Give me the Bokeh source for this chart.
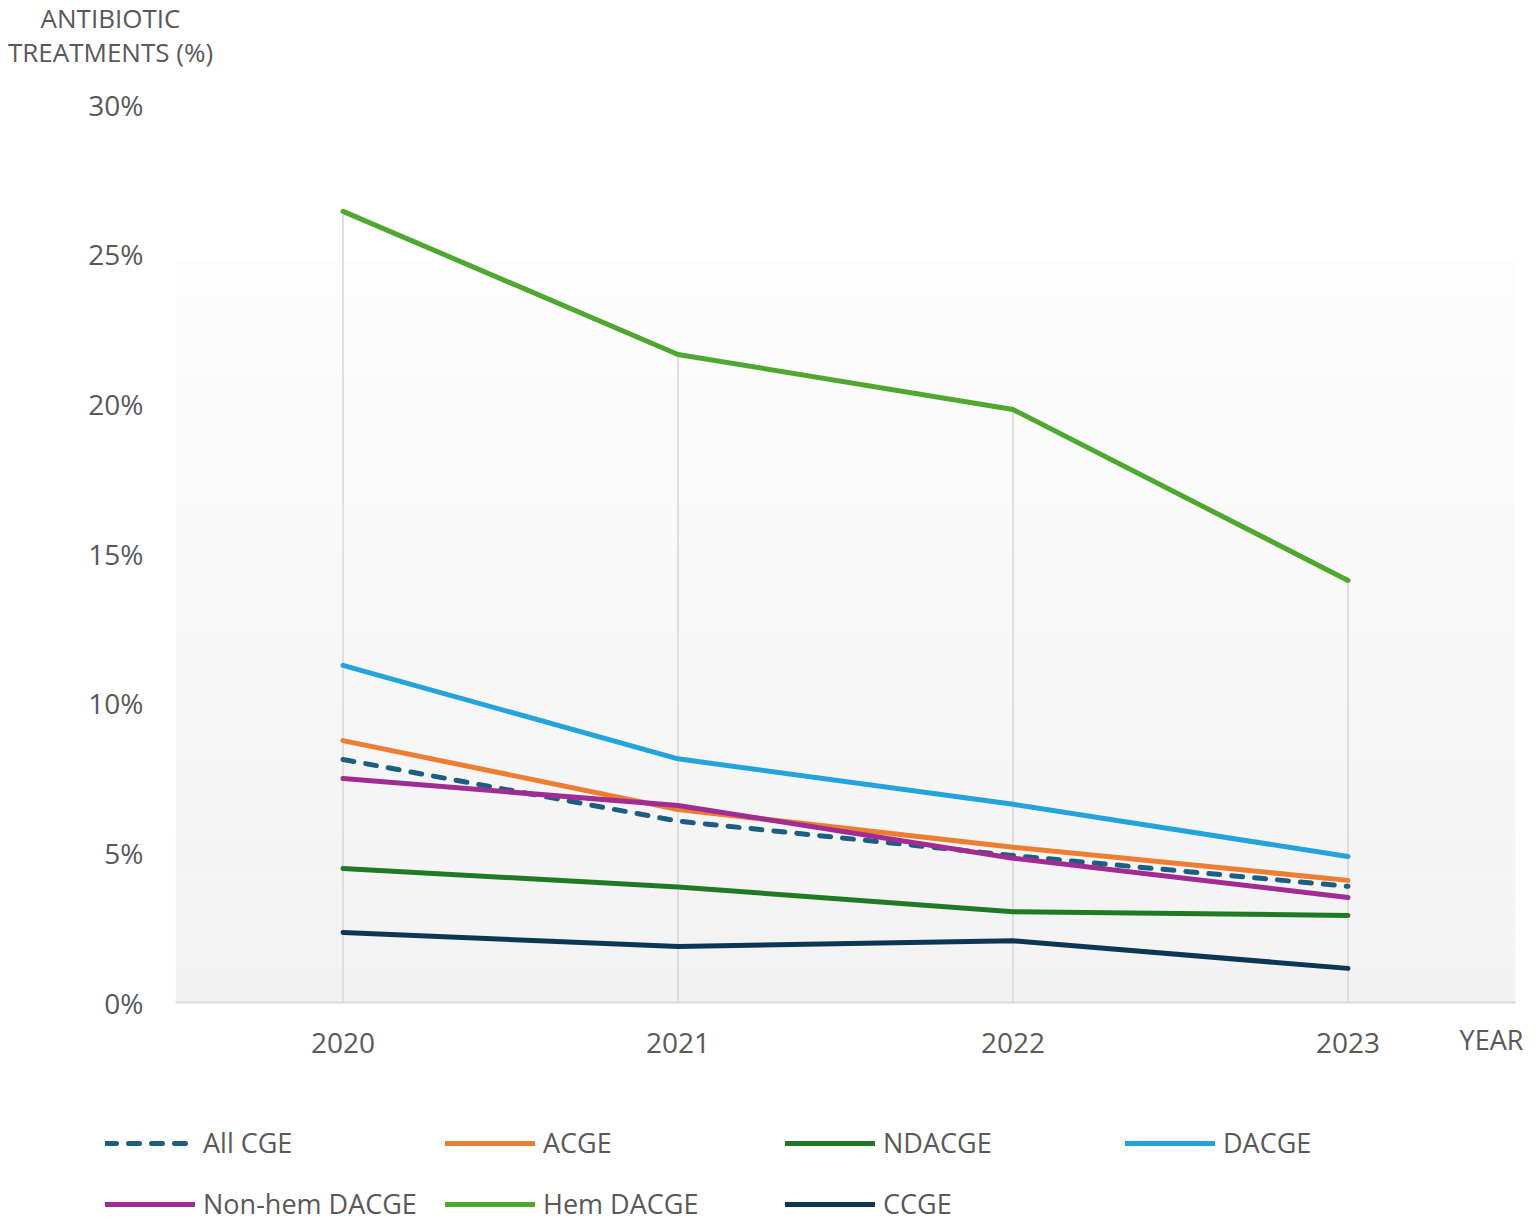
from bokeh.plotting import figure
from bokeh.models import (FactorRange, Range1d, FixedTicker, PrintfTickFormatter,
                          Legend, LegendItem, Label, BoxAnnotation)
from bokeh.embed import file_html
from bokeh.resources import INLINE

# ---- data ----
years = ["2020", "2021", "2022", "2023"]
all_cge = [8.12, 6.06, 4.91, 3.88]
acge = [8.75, 6.45, 5.19, 4.08]
ndacge = [4.48, 3.86, 3.03, 2.91]
dacge = [11.26, 8.14, 6.62, 4.88]
nonhem_dacge = [7.48, 6.58, 4.82, 3.51]
hem_dacge = [26.43, 21.65, 19.81, 14.10]
ccge = [2.34, 1.87, 2.06, 1.14]
y_ticks = [0, 5, 10, 15, 20, 25, 30]

series = [
    ("All CGE", all_cge, "#1b5e82", "11 12"),
    ("ACGE", acge, "#ed7d31", "solid"),
    ("NDACGE", ndacge, "#1f7a24", "solid"),
    ("DACGE", dacge, "#22a3dc", "solid"),
    ("Non-hem DACGE", nonhem_dacge, "#a02b93", "solid"),
    ("Hem DACGE", hem_dacge, "#4ea72e", "solid"),
    ("CCGE", ccge, "#0d3652", "solid"),
]

FONT = "Open Sans"
TXT = "#595959"

p = figure(x_range=FactorRange(*years), y_range=Range1d(0, 30),
           frame_width=1340, frame_height=898,
           min_border_left=175, min_border_right=13,
           min_border_top=104, min_border_bottom=108,
           output_backend="svg", toolbar_location=None)
p.outline_line_color = None
p.xgrid.grid_line_color = None
p.ygrid.grid_line_color = None
p.background_fill_color = "white"
p.border_fill_color = "white"

# plot-area gradient background (decorative)
n_bands = 40
top_val = 24.8
for i in range(n_bands):
    b = top_val * i / n_bands
    t = top_val * (i + 1) / n_bands
    f = i / (n_bands - 1)
    g = int(round(0xf2 + (0xfd - 0xf2) * f))
    p.add_layout(BoxAnnotation(bottom=b, top=t, fill_color="#%02x%02x%02x" % (g, g, g),
                               fill_alpha=1.0, line_color=None, level="underlay"))

# drop lines
maxima = [max(vals) for vals in zip(*[s[1] for s in series])]
p.segment(x0=years, y0=[0] * len(years), x1=years, y1=maxima,
          line_color="#d6d6d6", line_width=1.5)

for name, vals, color, dash in series:
    p.line(x=years, y=vals, line_color=color, line_width=5, line_dash=dash,
           line_cap="round", line_join="round")

# axes
p.yaxis.ticker = FixedTicker(ticks=y_ticks)
p.yaxis.formatter = PrintfTickFormatter(format="%d%%")
p.yaxis.axis_line_color = None
p.yaxis.major_tick_line_color = None
p.yaxis.minor_tick_line_color = None
p.yaxis.major_label_standoff = 26
p.yaxis.major_label_text_font = FONT
p.yaxis.major_label_text_font_size = "28px"
p.yaxis.major_label_text_color = TXT

p.xaxis.axis_line_color = "#d9d9d9"
p.xaxis.axis_line_width = 2
p.xaxis.major_tick_line_color = None
p.xaxis.minor_tick_line_color = None
p.xaxis.major_label_standoff = 24
p.xaxis.major_label_text_font = FONT
p.xaxis.major_label_text_font_size = "28px"
p.xaxis.major_label_text_color = TXT

# y axis title (above panel)
p.add_layout(Label(x=-65, y=105, x_units="screen", y_units="screen",
                   text="ANTIBIOTIC\nTREATMENTS (%)",
                   text_align="center", text_baseline="top",
                   text_font=FONT, text_font_size="26px", text_color=TXT,
                   text_line_height=0.95), "above")

# x axis title (below panel)
p.add_layout(Label(x=1316, y=53, x_units="screen", y_units="screen",
                   text="YEAR", text_align="center", text_baseline="middle",
                   text_font=FONT, text_font_size="27px", text_color=TXT), "below")

# legend strip: same series, drawn off-view so only the legend shows
lg = figure(x_range=FactorRange(*years), y_range=Range1d(-60, -59),
            width=1528, height=112, min_border=0,
            x_axis_type=None, y_axis_type=None,
            output_backend="svg", toolbar_location=None)
lg.outline_line_color = None
lg.xgrid.grid_line_color = None
lg.ygrid.grid_line_color = None
lg.background_fill_color = "white"
lg.border_fill_color = "white"

items = []
for name, vals, color, dash in series:
    r = lg.line(x=years, y=vals, line_color=color, line_width=5, line_dash=dash,
                line_cap="round", line_join="round")
    items.append(LegendItem(label=name, renderers=[r]))

legend = Legend(items=items, location=(105, 0), orientation="horizontal", ncols=4,
                glyph_width=90, glyph_height=30, label_height=34, label_width=218,
                label_standoff=8, spacing=24, padding=0, margin=0,
                border_line_color=None, background_fill_alpha=0,
                label_text_font=FONT, label_text_font_size="27px",
                label_text_color=TXT)
lg.add_layout(legend)

open("out.html", "w").write(file_html([p, lg], INLINE))
